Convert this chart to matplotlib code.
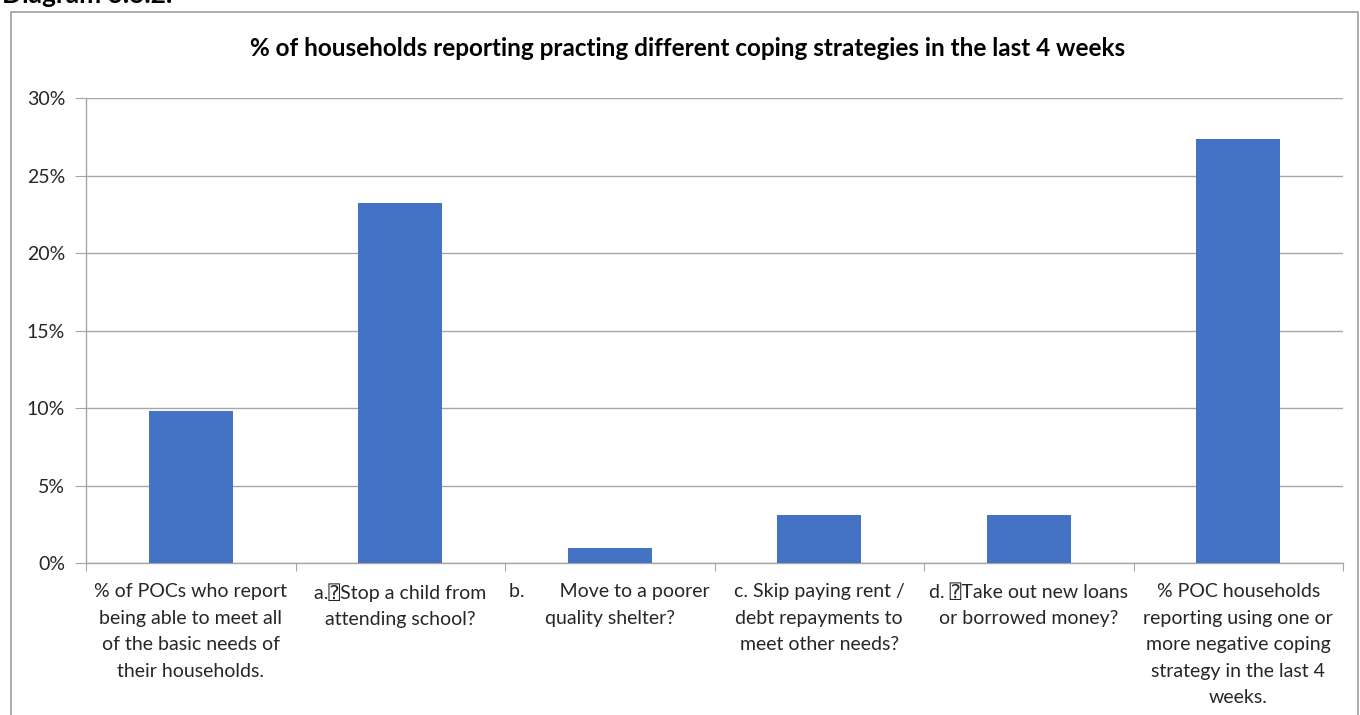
import matplotlib.pyplot as plt
from matplotlib.patches import Rectangle
from matplotlib.ticker import FuncFormatter
import matplotlib.transforms as mtransforms

plt.rcParams['font.family'] = ['Lato', 'DejaVu Sans', 'DejaVu Sans Mono',
                               'Noto Sans', 'Noto Sans CJK SC']

Q = '\u2370'
categories = [
    "% of POCs who report\nbeing able to meet all\nof the basic needs of\ntheir households.",
    "a." + Q + "Stop a child from\nattending school?",
    "b.       Move to a poorer\nquality shelter?",
    "c. Skip paying rent /\ndebt repayments to\nmeet other needs?",
    "d. " + Q + "Take out new loans\nor borrowed money?",
    "% POC households\nreporting using one or\nmore negative coping\nstrategy in the last 4\nweeks.",
]
values = [9.8, 23.2, 1.0, 3.1, 3.1, 27.35]
title = "% of households reporting practing different coping strategies in the last 4 weeks"
y_ticks = [0, 5, 10, 15, 20, 25, 30]

W, H = 1360, 715
fig = plt.figure(figsize=(W / 100, H / 100), dpi=100)

# outer chart frame
fig.patches.append(Rectangle((11 / W, -0.05), (1358 - 11) / W, 1.05 - 12 / H,
                             transform=fig.transFigure, fill=False,
                             edgecolor='#a6a6a6', linewidth=1.3, zorder=0))

# caption above the chart (partly cut at the top edge)
fig.text(2 / W, 1 + 5 / H, "Diagram 3.3.2.", ha='left', va='center',
         fontsize=19, fontweight='bold', color='black')

ax = fig.add_axes([86 / W, 1 - 563 / H, (1343 - 86) / W, (563 - 98) / H])
x = list(range(len(values)))
ax.bar(x, values, width=0.4, color='#4472C4', zorder=3)

ax.set_xlim(-0.5, len(values) - 0.5)
ax.set_ylim(0, 30)
ax.set_yticks(y_ticks)
ax.yaxis.set_major_formatter(FuncFormatter(lambda v, p: f"{int(v)}%"))
ax.grid(axis='y', color='#a6a6a6', linewidth=1.0, zorder=0)

for s in ['top', 'right']:
    ax.spines[s].set_visible(False)
for s in ['left', 'bottom']:
    ax.spines[s].set_color('#a6a6a6')
    ax.spines[s].set_linewidth(1.0)

ax.set_xticks([i - 0.5 for i in range(len(values) + 1)])
ax.set_xticklabels([])
ax.tick_params(axis='x', length=6, color='#a6a6a6', direction='out')
ax.tick_params(axis='y', length=8, color='#a6a6a6', direction='out',
               labelsize=14, labelcolor='#262626', pad=7)

trans = mtransforms.blended_transform_factory(ax.transData, ax.transAxes)
for i, lab in enumerate(categories):
    ax.text(i, -20 / (563 - 98), lab, transform=trans, ha='center', va='top',
            fontsize=14, color='#262626', linespacing=1.68)

fig.text(688 / W, 1 - 49 / H, title, ha='center', va='center',
         fontsize=17.5, fontweight='bold', color='black')

fig.savefig('out.png', dpi=100)
